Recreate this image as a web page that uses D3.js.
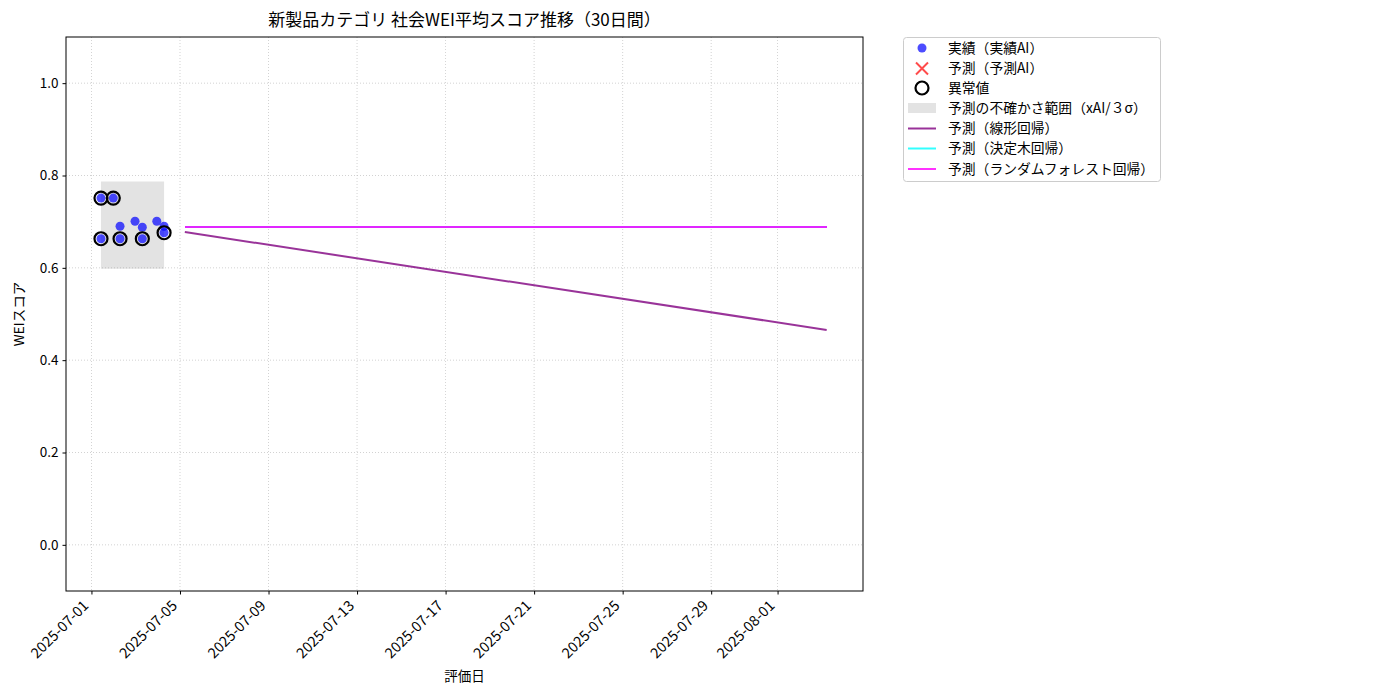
<!DOCTYPE html>
<html>
<head>
<meta charset="utf-8">
<script src="https://cdn.jsdelivr.net/npm/d3@7"></script>
<style>
  body { margin: 0; background: #fff; }
  svg text { font-family: "Noto Sans CJK JP", "Noto Sans", sans-serif; fill: #000; }
</style>
</head>
<body>
<svg id="chart" width="1400" height="700"></svg>
<script>
// ---- data ----
const actualDates  = ["2025-07-01T10:20","2025-07-01T10:20","2025-07-01T23:40","2025-07-02T07:00","2025-07-02T07:00","2025-07-02T23:15","2025-07-03T07:10","2025-07-03T07:10","2025-07-03T22:50","2025-07-04T06:45","2025-07-04T06:45"];
const actualValues = [0.751, 0.663, 0.751, 0.690, 0.663, 0.701, 0.688, 0.663, 0.701, 0.690, 0.676];
const outlierDates  = ["2025-07-01T10:20","2025-07-01T10:20","2025-07-01T23:40","2025-07-02T07:00","2025-07-03T07:10","2025-07-04T06:45"];
const outlierValues = [0.751, 0.663, 0.751, 0.663, 0.663, 0.676];
const bandDates = ["2025-07-01T10:20","2025-07-04T06:45"];
const bandLow  = [0.598, 0.598];
const bandHigh = [0.787, 0.787];
const forecastDates = ["2025-07-05T05:15","2025-08-03T05:15"];
const linearValues = [0.6775, 0.4655];
const treeValues   = [0.688, 0.688];
const forestValues = [0.688, 0.688];
const xDomain = ["2025-06-29T20:24","2025-08-04T20:38"];
const yDomain = [-0.1, 1.1];
const xTickLabels = ["2025-07-01","2025-07-05","2025-07-09","2025-07-13","2025-07-17","2025-07-21","2025-07-25","2025-07-29","2025-08-01"];
const yTicks = [0.0, 0.2, 0.4, 0.6, 0.8, 1.0];
const legendLabels = ["実績（実績AI）","予測（予測AI）","異常値","予測の不確かさ範囲（xAI/３σ）","予測（線形回帰）","予測（決定木回帰）","予測（ランダムフォレスト回帰）"];
const titleText = "新製品カテゴリ 社会WEI平均スコア推移（30日間）";

// ---- layout ----
const parse = d3.isoParse;
const M = {left: 66, top: 37, right: 863, bottom: 591};
const svg = d3.select("#chart");

const x = d3.scaleTime().domain(xDomain.map(parse)).range([M.left, M.right]);
const y = d3.scaleLinear().domain(yDomain).range([M.bottom, M.top]);

svg.append("defs").append("clipPath").attr("id", "clip")
  .append("rect").attr("x", M.left).attr("y", M.top)
  .attr("width", M.right - M.left).attr("height", M.bottom - M.top);

// grid
const xTickDates = xTickLabels.map(d => parse(d));
const grid = svg.append("g");
grid.selectAll(".gx").data(xTickDates).join("line")
  .attr("x1", d => x(d)).attr("x2", d => x(d))
  .attr("y1", M.top).attr("y2", M.bottom)
  .attr("stroke", "#b0b0b0").attr("stroke-width", 0.8).attr("stroke-dasharray", "1,2").attr("opacity", 0.7);
grid.selectAll(".gy").data(yTicks).join("line")
  .attr("y1", d => y(d)).attr("y2", d => y(d))
  .attr("x1", M.left).attr("x2", M.right)
  .attr("stroke", "#b0b0b0").attr("stroke-width", 0.8).attr("stroke-dasharray", "1,2").attr("opacity", 0.7);

const plot = svg.append("g").attr("clip-path", "url(#clip)");

// band
const bandData = bandDates.map((d, i) => ({d: parse(d), lo: bandLow[i], hi: bandHigh[i]}));
plot.append("path").datum(bandData)
  .attr("d", d3.area().x(d => x(d.d)).y0(d => y(d.lo)).y1(d => y(d.hi)))
  .attr("fill", "#808080").attr("opacity", 0.22);

// lines
function series(vals) { return forecastDates.map((d, i) => ({d: parse(d), v: vals[i]})); }
const line = d3.line().x(d => x(d.d)).y(d => y(d.v));
plot.append("path").datum(series(linearValues)).attr("d", line)
  .attr("fill", "none").attr("stroke", "purple").attr("stroke-width", 2).attr("opacity", 0.8);
plot.append("path").datum(series(treeValues)).attr("d", line)
  .attr("fill", "none").attr("stroke", "cyan").attr("stroke-width", 2).attr("opacity", 0.8)
  .attr("shape-rendering", "crispEdges");
plot.append("path").datum(series(forestValues)).attr("d", line)
  .attr("fill", "none").attr("stroke", "magenta").attr("stroke-width", 2).attr("opacity", 0.85)
  .attr("shape-rendering", "crispEdges");

// actual points
plot.selectAll(".pt").data(actualDates.map((d, i) => ({d: parse(d), v: actualValues[i]})))
  .join("circle")
  .attr("cx", d => x(d.d)).attr("cy", d => y(d.v)).attr("r", 4.5)
  .attr("fill", "blue").attr("opacity", 0.7);

// outliers
plot.selectAll(".out").data(outlierDates.map((d, i) => ({d: parse(d), v: outlierValues[i]})))
  .join("circle")
  .attr("cx", d => x(d.d)).attr("cy", d => y(d.v)).attr("r", 6.5)
  .attr("fill", "none").attr("stroke", "#000").attr("stroke-width", 2.2);

// axes frame
svg.append("rect").attr("x", M.left).attr("y", M.top)
  .attr("width", M.right - M.left).attr("height", M.bottom - M.top)
  .attr("fill", "none").attr("stroke", "#000").attr("stroke-width", 1);

// x axis
const xAxis = svg.append("g").attr("transform", `translate(0,${M.bottom})`)
  .call(d3.axisBottom(x).tickValues(xTickDates).tickFormat(d3.timeFormat("%Y-%m-%d")).tickSize(3.5).tickPadding(3));
xAxis.select(".domain").remove();
xAxis.selectAll("line").attr("stroke", "#000");
xAxis.selectAll("text")
  .attr("font-size", "14.5px")
  .attr("text-anchor", "end")
  .attr("x", 0).attr("y", 0).attr("dy", "0.35em")
  .attr("transform", "translate(-6,12) rotate(-45)");

// y axis
const yAxis = svg.append("g").attr("transform", `translate(${M.left},0)`)
  .call(d3.axisLeft(y).tickValues(yTicks).tickFormat(d3.format(".1f")).tickSize(3.5).tickPadding(4));
yAxis.select(".domain").remove();
yAxis.selectAll("line").attr("stroke", "#000");
yAxis.selectAll("text").attr("font-size", "13.5px");

// title & labels
svg.append("text").attr("x", (M.left + M.right) / 2).attr("y", 26)
  .attr("text-anchor", "middle").attr("font-size", "17px").text(titleText);
svg.append("text").attr("x", (M.left + M.right) / 2).attr("y", 681)
  .attr("text-anchor", "middle").attr("font-size", "13.5px").text("評価日");
svg.append("text").attr("transform", `translate(24,${(M.top + M.bottom) / 2}) rotate(-90)`)
  .attr("text-anchor", "middle").attr("font-size", "13.5px").text("WEIスコア");

// legend
const lg = svg.append("g");
lg.append("rect").attr("x", 903.5).attr("y", 37.5).attr("width", 257).attr("height", 144)
  .attr("rx", 3).attr("fill", "#fff").attr("stroke", "#cccccc").attr("stroke-width", 1);
const rowY = [48, 68.5, 88, 108, 128.5, 148.5, 169];
legendLabels.forEach((t, i) => {
  lg.append("text").attr("x", 948).attr("y", rowY[i]).attr("dy", "0.35em")
    .attr("font-size", "13.8px").text(t);
});
lg.append("circle").attr("cx", 922).attr("cy", rowY[0]).attr("r", 4.5).attr("fill", "blue").attr("opacity", 0.7);
const xs = 6;
lg.append("path").attr("d", `M${922 - xs},${rowY[1] - xs}L${922 + xs},${rowY[1] + xs}M${922 - xs},${rowY[1] + xs}L${922 + xs},${rowY[1] - xs}`)
  .attr("stroke", "red").attr("stroke-width", 2).attr("opacity", 0.7);
lg.append("circle").attr("cx", 922).attr("cy", rowY[2]).attr("r", 6.5)
  .attr("fill", "none").attr("stroke", "#000").attr("stroke-width", 2.2);
lg.append("rect").attr("x", 908).attr("y", rowY[3] - 5).attr("width", 28).attr("height", 10)
  .attr("fill", "#808080").attr("opacity", 0.22);
[["purple", 4], ["cyan", 5], ["magenta", 6]].forEach(([c, i]) => {
  lg.append("line").attr("x1", 908).attr("x2", 936).attr("y1", rowY[i]).attr("y2", rowY[i])
    .attr("stroke", c).attr("stroke-width", 2).attr("opacity", 0.8);
});
</script>
</body>
</html>
